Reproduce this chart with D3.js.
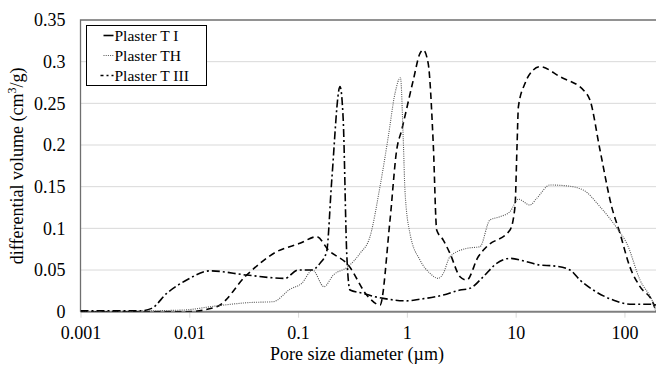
<!DOCTYPE html>
<html>
<head>
<meta charset="utf-8">
<script src="https://cdn.jsdelivr.net/npm/d3@7"></script>
<style>
    body { margin: 0; background: #fff; }
    text { font-family: "Liberation Serif", "Times New Roman", serif; fill: #000; }
</style>
</head>
<body>
<div id="chart"></div>
<script>
// Pore size diameter (µm) and differential volume (cm3/g)
const dT1 = [0.001, 0.0095, 0.0179, 0.0337, 0.0635, 0.104, 0.148, 0.19, 0.289, 0.44, 0.566, 0.70, 0.806, 0.896, 1.146, 1.32, 1.415, 1.57, 1.75, 1.88, 2.16, 2.49, 3.08, 3.55, 4.53, 5.41, 8.87, 9.86, 10.3, 10.6, 12.2, 14.5, 16.7, 25.5, 43.3, 48.2, 59.6, 76.3, 91, 112, 139, 184, 195];
const vT1 = [0, 0, 0.006, 0.044, 0.072, 0.082, 0.09, 0.074, 0.056, 0.018, 0.008, 0.11, 0.194, 0.218, 0.278, 0.31, 0.314, 0.298, 0.2, 0.098, 0.086, 0.07, 0.042, 0.038, 0.066, 0.078, 0.098, 0.126, 0.2, 0.246, 0.274, 0.29, 0.294, 0.282, 0.264, 0.254, 0.194, 0.126, 0.094, 0.054, 0.03, 0.01, 0];

const dTH = [0.001, 0.00875, 0.0179, 0.0361, 0.0592, 0.0843, 0.108, 0.136, 0.173, 0.211, 0.288, 0.371, 0.458, 0.566, 0.675, 0.778, 0.873, 0.927, 0.96, 1.067, 1.32, 1.63, 1.94, 2.16, 2.49, 3.55, 4.7, 5.8, 7.18, 8.87, 10.6, 13.5, 15.6, 20.7, 29.4, 41.8, 59.6, 87.7, 105, 139, 184, 195];
const vTH = [0, 0.002, 0.007, 0.011, 0.012, 0.027, 0.034, 0.05, 0.03, 0.044, 0.054, 0.07, 0.09, 0.15, 0.21, 0.262, 0.281, 0.206, 0.146, 0.094, 0.062, 0.046, 0.04, 0.046, 0.066, 0.076, 0.078, 0.11, 0.114, 0.12, 0.135, 0.128, 0.136, 0.152, 0.151, 0.146, 0.126, 0.098, 0.082, 0.038, 0.01, 0];

const dT3 = [0.001, 0.00352, 0.00451, 0.0062, 0.00946, 0.0155, 0.0337, 0.0758, 0.0998, 0.133, 0.159, 0.183, 0.204, 0.243, 0.26, 0.28, 0.3, 0.397, 0.509, 0.607, 0.996, 1.32, 2.16, 3.08, 3.8, 5.04, 6.69, 8.87, 12.6, 16.7, 22.2, 31.6, 39, 51.6, 78.9, 112, 172, 195];
const vT3 = [0.001, 0.001, 0.004, 0.022, 0.038, 0.049, 0.044, 0.04, 0.05, 0.05, 0.058, 0.072, 0.158, 0.27, 0.23, 0.07, 0.026, 0.022, 0.018, 0.016, 0.013, 0.015, 0.02, 0.026, 0.028, 0.042, 0.058, 0.064, 0.06, 0.056, 0.055, 0.05, 0.038, 0.026, 0.014, 0.009, 0.009, 0.008];

const seriesNames = ["Plaster T I", "Plaster TH", "Plaster T III"];
const xTicks = [0.001, 0.01, 0.1, 1, 10, 100];
const xTickLabels = ["0.001", "0.01", "0.1", "1", "10", "100"];
const yTicks = [0, 0.05, 0.1, 0.15, 0.2, 0.25, 0.3, 0.35];
const yTickLabels = ["0", "0.05", "0.1", "0.15", "0.2", "0.25", "0.3", "0.35"];

const W = 656, H = 368;
const margin = {top: 20, right: 0, bottom: 56.3, left: 80.5};
const width = W - margin.left - margin.right;
const height = H - margin.top - margin.bottom;

const svg = d3.select("#chart").append("svg")
    .attr("width", W)
    .attr("height", H);

const g = svg.append("g")
    .attr("transform", "translate(" + margin.left + "," + margin.top + ")");

// Scales
const x = d3.scaleLog().domain([0.001, 195]).range([0, width]);
const y = d3.scaleLinear().domain([0, 0.35]).range([height, 0]);

// Gridlines
g.append("g")
    .selectAll("line")
    .data(yTicks.slice(1, -1))
    .enter().append("line")
    .attr("x1", 0).attr("x2", width)
    .attr("y1", d => y(d)).attr("y2", d => y(d))
    .attr("stroke", "#d9d9d9")
    .attr("stroke-width", 1);

// Plot border (top + left)
g.append("path")
    .attr("d", "M0," + height + "V0H" + (width + 2))
    .attr("fill", "none")
    .attr("stroke", "#6f6f6f")
    .attr("stroke-width", 1.3);

// x axis
const xAxis = d3.axisBottom(x)
    .tickValues(xTicks)
    .tickFormat((d, i) => xTickLabels[i])
    .tickSize(6)
    .tickPadding(9);

const xg = g.append("g")
    .attr("transform", "translate(0," + height + ")")
    .call(xAxis);
xg.select(".domain").remove();
xg.selectAll(".tick line").attr("stroke", "#d9d9d9");
xg.selectAll(".tick text")
    .style("font-family", "Liberation Serif, serif")
    .style("font-size", "18px")
    .attr("fill", "#000");
xg.append("line")
    .attr("x1", 0).attr("x2", width + 2)
    .attr("stroke", "#7f7f7f")
    .attr("stroke-width", 2);

// y axis
const yAxis = d3.axisLeft(y)
    .tickValues(yTicks)
    .tickFormat((d, i) => yTickLabels[i])
    .tickSize(0)
    .tickPadding(15);

const yg = g.append("g").call(yAxis);
yg.select(".domain").remove();
yg.selectAll(".tick text")
    .style("font-family", "Liberation Serif, serif")
    .style("font-size", "18px")
    .attr("fill", "#000");

// Axis titles
svg.append("text")
    .attr("x", 357)
    .attr("y", 360)
    .attr("text-anchor", "middle")
    .style("font-size", "18px")
    .text("Pore size diameter (µm)");

svg.append("text")
    .attr("transform", "translate(23," + (margin.top + height / 2) + ") rotate(-90)")
    .attr("text-anchor", "middle")
    .style("font-size", "18px")
    .html("differential volume (cm<tspan dy='-7' font-size='12px'>3</tspan><tspan dy='7'>/g)</tspan>");

// Lines
const styles = [
    {dash: "6.5,4", color: "#000", w: 1.6},
    {dash: "1,1.2", color: "#555", w: 1.1},
    {dash: "8,3,2,3", color: "#000", w: 1.6}
];
const seriesData = [
    dT1.map((d, i) => ({d: d, v: vT1[i]})),
    dTH.map((d, i) => ({d: d, v: vTH[i]})),
    dT3.map((d, i) => ({d: d, v: vT3[i]}))
];

g.append("clipPath").attr("id", "clip")
    .append("rect").attr("x", 0).attr("y", -2).attr("width", width + 2).attr("height", height + 2);

const line = d3.line()
    .x(p => x(p.d))
    .y(p => y(p.v))
    .curve(d3.curveMonotoneX);

g.append("g")
    .attr("clip-path", "url(#clip)")
    .selectAll("path")
    .data(seriesData)
    .enter().append("path")
    .attr("d", line)
    .attr("fill", "none")
    .attr("stroke", (d, i) => styles[i].color)
    .attr("stroke-width", (d, i) => styles[i].w)
    .attr("stroke-dasharray", (d, i) => styles[i].dash);

// Legend
const legend = svg.append("g").attr("transform", "translate(86.5,25.5)");
legend.append("rect")
    .attr("width", 120)
    .attr("height", 60)
    .attr("fill", "#fff")
    .attr("stroke", "#000")
    .attr("stroke-width", 1);

const legendDash = ["10", "1,1.2", "3,3,2,3"];
seriesNames.forEach((name, i) => {
    const ly = 10 + i * 20;
    legend.append("line")
        .attr("x1", i === 2 ? 14 : 17).attr("x2", 27)
        .attr("y1", ly).attr("y2", ly)
        .attr("stroke", styles[i].color)
        .attr("stroke-width", styles[i].w)
        .attr("stroke-dasharray", legendDash[i]);
    legend.append("text")
        .attr("x", 28)
        .attr("y", ly + 5)
        .style("font-size", "15.5px")
        .text(name);
});
</script>
</body>
</html>
